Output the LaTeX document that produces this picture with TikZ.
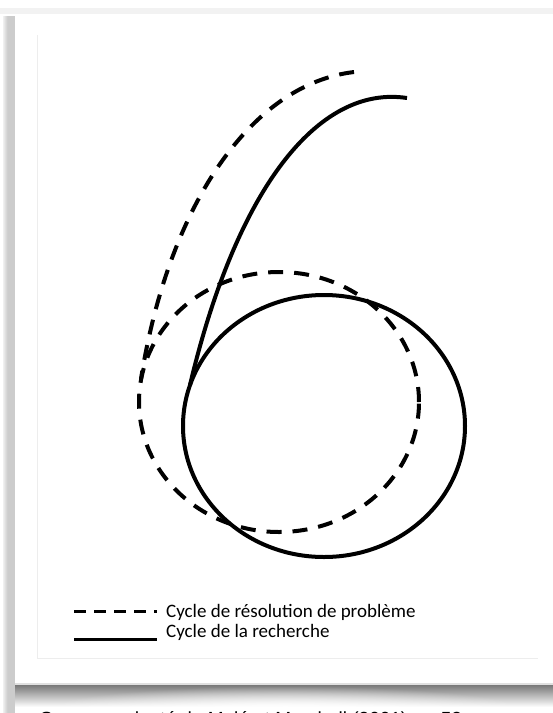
\documentclass[tikz,border=0pt]{standalone}
\usepackage{fontspec}
\setmainfont{Carlito}
\newfontfamily\arialf{Liberation Sans}
\usetikzlibrary{fadings}
\tikzfading[name=myradfade, inner color=transparent!0, outer color=transparent!100]
\begin{document}
\begin{tikzpicture}[x=1pt,y=-1pt,
  curve/.style={line width=4pt, black, line cap=butt, line join=round},
  dashcurve/.style={curve, dash pattern=on 15pt off 11pt},
  legdash/.style={line width=3pt, dash pattern=on 12pt off 8pt},
  legsolid/.style={line width=3pt},
  legtext/.style={anchor=base west, inner sep=0pt, font=\fontsize{19}{22}\selectfont}]
\useasboundingbox (0,0) rectangle (553,713);
\clip (0,0) rectangle (553,713);
\fill[white] (0,0) rectangle (553,713);
% page frame and shadows
\fill[black!5] (0,8) rectangle (553,14);
\shade[left color=black!6, right color=black!22] (3,16) rectangle (8,713);
\fill[black!20] (8,16) rectangle (15,713);
\fill[white] (15,14) rectangle (553,684);
\draw[black!7, line width=0.6pt] (37,35) -- (37,658) -- (538,658);
\shade[top color=black!55, bottom color=white] (15,684) rectangle (553,707);
\fill[white, path fading=myradfade] (285,710) ellipse [x radius=240pt, y radius=24pt];
\fill[black!12] (15,683) rectangle (553,685);
% bottom (cut off) source text
\node[anchor=base west, inner sep=0pt, font=\arialf\fontsize{19}{22}\selectfont] (src) at (40,725) {Source : adapté de Malé et Marshall (2001), p. 52};
% dashed "6" : problem-solving cycle
\coordinate (dc) at (279,402);
\coordinate (dtop) at (354,72);
\coordinate (djoin) at (141,379);
\draw[dashcurve] (dc) ellipse [x radius=140pt, y radius=130pt];
\draw[dashcurve] (dtop) .. controls (249,84.6) and (168,209) .. (djoin);
% solid "6" : research cycle
\coordinate (sc) at (324,426);
\coordinate (stop) at (407,98);
\coordinate (sjoin) at (190,385);
\draw[curve] (sc) ellipse [x radius=141pt, y radius=131pt];
\draw[curve] (stop) .. controls (317,84.5) and (236,191) .. (sjoin);
% legend
\node[legtext] (leg1) at (166,617) {Cycle de résolution de problème};
\node[legtext] (leg2) at (166,637) {Cycle de la recherche};
\coordinate (d1) at (74,611);
\coordinate (d2) at (157,611);
\coordinate (s1) at (74,639);
\coordinate (s2) at (157,639);
\draw[legdash] (d1) -- (d2);
\draw[legsolid] (s1) -- (s2);
\end{tikzpicture}
\end{document}
